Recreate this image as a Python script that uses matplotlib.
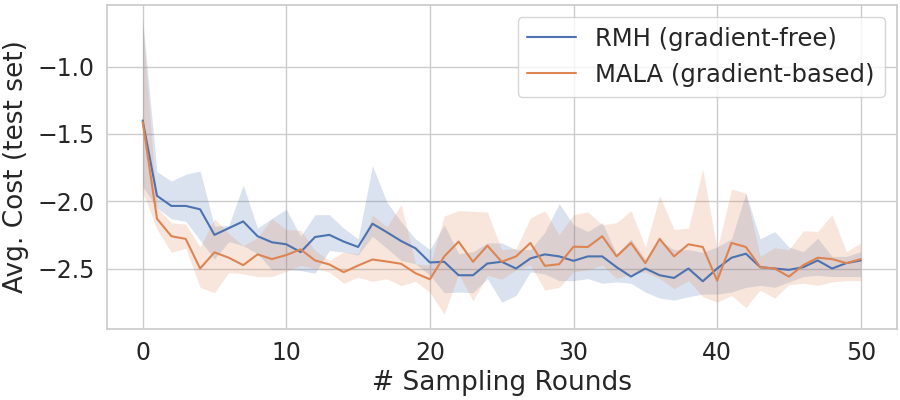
import numpy as np
import matplotlib
matplotlib.use("Agg")
import matplotlib.pyplot as plt
import seaborn as sns

rounds = list(range(51))

rmh_mean = [-1.40, -1.96, -2.035, -2.035, -2.06, -2.25, -2.20, -2.15, -2.26, -2.305, -2.32,
            -2.378, -2.266, -2.25, -2.30, -2.34, -2.167, -2.23, -2.296, -2.35, -2.455,
            -2.45, -2.55, -2.55, -2.463, -2.45, -2.50, -2.425, -2.395, -2.41, -2.443,
            -2.41, -2.41, -2.49, -2.56, -2.50, -2.55, -2.57, -2.50, -2.595, -2.50,
            -2.42, -2.39, -2.49, -2.50, -2.51, -2.49, -2.44, -2.50, -2.46, -2.44]
rmh_hi = [-0.65, -1.78, -1.85, -1.80, -1.775, -2.185, -2.18, -1.88, -2.20, -2.127, -2.06,
          -2.26, -2.10, -2.10, -2.20, -2.28, -1.736, -2.005, -2.154, -2.28, -2.36,
          -2.175, -2.39, -2.375, -2.31, -2.31, -2.36, -2.36, -2.23, -2.018, -2.175,
          -2.225, -2.16, -2.39, -2.28, -2.43, -2.29, -2.36, -2.36, -2.38, -2.34,
          -2.28, -1.94, -2.28, -2.225, -2.34, -2.375, -2.275, -2.41, -2.41, -2.375]
rmh_lo = [-1.89, -2.05, -2.13, -2.15, -2.29, -2.43, -2.30, -2.33, -2.39, -2.51, -2.51,
          -2.515, -2.535, -2.366, -2.378, -2.40, -2.26, -2.35, -2.44, -2.465, -2.55,
          -2.68, -2.675, -2.68, -2.575, -2.75, -2.70, -2.525, -2.54, -2.59, -2.59,
          -2.575, -2.61, -2.60, -2.61, -2.675, -2.72, -2.735, -2.71, -2.69, -2.69,
          -2.675, -2.64, -2.625, -2.64, -2.60, -2.56, -2.55, -2.56, -2.56, -2.56]

mala_mean = [-1.41, -2.13, -2.26, -2.28, -2.50, -2.38, -2.42, -2.475, -2.395, -2.43, -2.40,
             -2.358, -2.44, -2.47, -2.527, -2.478, -2.433, -2.448, -2.465, -2.535, -2.58,
             -2.41, -2.30, -2.45, -2.33, -2.45, -2.41, -2.31, -2.48, -2.468, -2.338,
             -2.34, -2.26, -2.41, -2.31, -2.46, -2.28, -2.41, -2.32, -2.34, -2.59,
             -2.31, -2.34, -2.49, -2.50, -2.56, -2.475, -2.42, -2.43, -2.46, -2.43]
mala_hi = [-0.68, -2.05, -2.16, -2.17, -2.34, -2.13, -2.24, -2.33, -2.27, -2.13, -2.21,
           -2.216, -2.366, -2.44, -2.378, -2.39, -2.104, -2.19, -2.025, -2.465, -2.475,
           -2.11, -2.07, -2.075, -2.08, -2.36, -2.35, -2.125, -2.07, -2.25, -2.10,
           -2.08, -2.175, -2.16, -2.07, -2.34, -1.96, -2.21, -2.20, -1.76, -2.36,
           -1.91, -1.94, -2.41, -2.345, -2.36, -2.22, -2.225, -2.10, -2.375, -2.31]
mala_lo = [-1.93, -2.21, -2.38, -2.35, -2.64, -2.68, -2.53, -2.54, -2.56, -2.56, -2.52,
           -2.478, -2.50, -2.527, -2.61, -2.565, -2.595, -2.577, -2.627, -2.595, -2.677,
           -2.84, -2.54, -2.74, -2.55, -2.58, -2.51, -2.475, -2.66, -2.64, -2.525,
           -2.51, -2.475, -2.575, -2.54, -2.525, -2.575, -2.65, -2.59, -2.71, -2.75,
           -2.70, -2.79, -2.66, -2.72, -2.62, -2.61, -2.625, -2.60, -2.59, -2.59]

labels = ["RMH (gradient-free)", "MALA (gradient-based)"]

sns.set_theme(style="whitegrid")
plt.rcParams['font.family'] = ['DejaVu Sans']

fig = plt.figure(figsize=(9, 4), dpi=100)
ax = fig.add_axes([0.1186, 0.1775, 0.8777, 0.8105])

pal = sns.color_palette("deep")
for mean, lo, hi, lab, c in [(rmh_mean, rmh_lo, rmh_hi, labels[0], pal[0]),
                             (mala_mean, mala_lo, mala_hi, labels[1], pal[1])]:
    ax.plot(rounds, mean, color=c, lw=1.5, label=lab)
    ax.fill_between(rounds, lo, hi, color=c, alpha=0.2, linewidth=0)

ax.set_xlabel("# Sampling Rounds", fontsize=19, labelpad=3.5)
ax.set_ylabel("Avg. Cost (test set)", fontsize=19, labelpad=6.5)
ax.tick_params(labelsize=17, length=0, pad=8.5)
ax.set_yticks([-2.5, -2.0, -1.5, -1.0])
ax.legend(loc="upper right", fontsize=17.5)

fig.savefig("out.png", dpi=100)
